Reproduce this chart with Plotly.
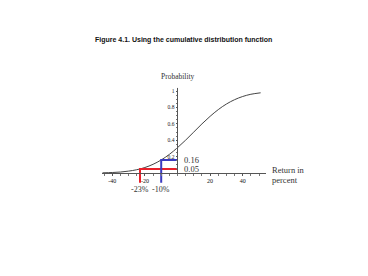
import plotly.graph_objects as go

# Cumulative distribution
returns = [-46, -40, -35, -30, -25, -20, -15, -10, -5, 0, 5, 10, 15, 20, 25, 30, 35, 40, 45, 51]
cum_prob = [0.002, 0.006, 0.012, 0.023, 0.040, 0.067, 0.106, 0.159, 0.227, 0.309, 0.401, 0.50,
            0.599, 0.691, 0.773, 0.841, 0.894, 0.933, 0.960, 0.978]

x_ticks = [-40, -20, 20, 40]
x_ticktext = ["-40", "-20", "20", "40"]
y_ticks = [0.2, 0.4, 0.6, 0.8, 1.0]
y_ticktext = ["0.2", "0.4", "0.6", "0.8", "1"]

red_x, red_p = -23, 0.05
blue_x, blue_p = -10, 0.16
line_bottom = -0.12

W, H = 368, 276
x0_px, scale = 177.5, 1.63
x_lo, x_hi = (102 - x0_px) / scale, (266 - x0_px) / scale
y0_px, yscale = 173, 82
y_lo, y_hi = -0.25, 1.04

fig = go.Figure()
fig.add_trace(go.Scatter(x=returns, y=cum_prob, mode="lines", line=dict(color="#444", width=1, shape="spline"),
                         hoverinfo="skip", showlegend=False))

# red and blue guide lines
fig.add_trace(go.Scatter(x=[red_x, red_x, 0], y=[line_bottom, red_p, red_p], mode="lines",
                         line=dict(color="#e8202a", width=2), showlegend=False))
fig.add_trace(go.Scatter(x=[blue_x, blue_x, 0], y=[line_bottom, blue_p, blue_p], mode="lines",
                         line=dict(color="#3a3ac0", width=2), showlegend=False))

# y axis line
fig.add_shape(type="line", x0=0, x1=0, y0=0, y1=y_hi, xref="x", yref="y", line=dict(color="#555", width=1))

serif = "Liberation Serif, Times New Roman, serif"
txt = "#333"
ann = [
    dict(x=0, y=y_hi, yshift=11, text="Probability", size=7.5, xanchor="center"),
    dict(x=3, y=blue_p, text="0.16", size=8.5, xanchor="left"),
    dict(x=3, y=red_p, text="0.05", size=8.5, xanchor="left"),
    dict(x=red_x, y=line_bottom, yshift=-7, text="-23%", size=8, xanchor="center"),
    dict(x=blue_x, y=line_bottom, yshift=-7, text="-10%", size=8, xanchor="center"),
    dict(x=x_hi, y=0, xshift=4, yshift=3, text="Return in", size=8.5, xanchor="left"),
    dict(x=x_hi, y=0, xshift=4, yshift=-7, text="percent", size=8.5, xanchor="left"),
]
for a in ann:
    fig.add_annotation(x=a["x"], y=a["y"], xref="x", yref="y", text=a["text"], showarrow=False,
                       xanchor=a["xanchor"], yanchor="middle", xshift=a.get("xshift", 0),
                       yshift=a.get("yshift", 0), font=dict(family=serif, size=a["size"], color=txt))

fig.add_annotation(x=183 / W, y=1 - 34 / H, xref="paper", yref="paper", showarrow=False,
                   text="<b>Figure 4.1. Using the cumulative distribution function</b>",
                   font=dict(family="Liberation Sans, Arial, sans-serif", size=7, color="#111"))

fig.update_layout(
    width=W, height=H, margin=dict(l=0, r=0, t=0, b=0),
    paper_bgcolor="white", plot_bgcolor="white", showlegend=False,
    xaxis=dict(domain=[102 / W, 266 / W], range=[x_lo, x_hi], anchor="free", position=1 - y0_px / H,
               showline=True, linecolor="#555", linewidth=1, showgrid=False, zeroline=False,
               tickvals=x_ticks, ticktext=x_ticktext, ticks="outside", ticklen=2, tickcolor="#555",
               tickfont=dict(family=serif, size=6, color="#111"),
               minor=dict(dtick=5, ticks="outside", ticklen=1.5, tickcolor="#777")),
    yaxis=dict(domain=[1 - (y0_px - y_lo * yscale) / H, 1 - (y0_px - y_hi * yscale) / H],
               range=[y_lo, y_hi], anchor="free", position=x0_px / W,
               showline=False, showgrid=False, zeroline=False,
               tickvals=y_ticks, ticktext=y_ticktext, ticks="outside", ticklen=2, tickcolor="#555",
               tickfont=dict(family=serif, size=5.5, color="#222"),
               minor=dict(tickvals=[0.05 * i for i in range(1, 21)], ticks="outside", ticklen=1.5, tickcolor="#777")),
)

fig.write_html("out.html")
